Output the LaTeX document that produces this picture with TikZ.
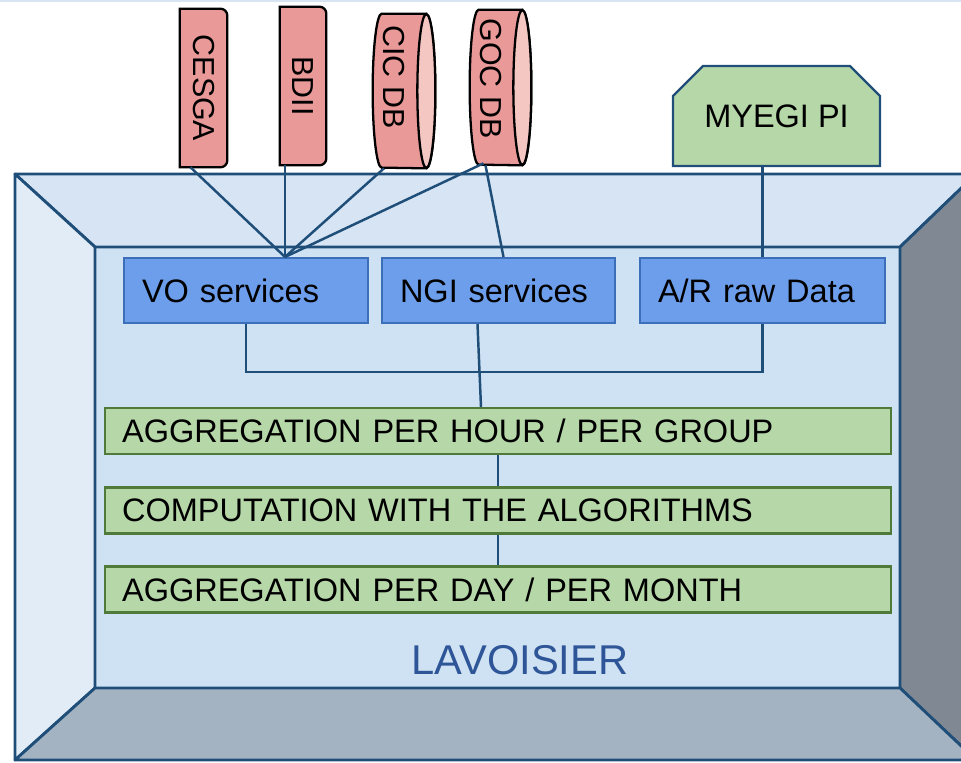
\documentclass[tikz,border=0pt]{standalone}
\usepackage{fontspec}
\setmainfont{Liberation Sans}
\usetikzlibrary{calc,shapes.misc}
\definecolor{LavEdge}{RGB}{31,78,121}
\definecolor{LavTop}{RGB}{214,228,244}
\definecolor{LavLeft}{RGB}{226,236,247}
\definecolor{LavInner}{RGB}{207,226,243}
\definecolor{LavRight}{RGB}{127,136,147}
\definecolor{LavBottom}{RGB}{164,179,194}
\definecolor{LavText}{RGB}{46,85,151}
\definecolor{SrcPink}{RGB}{234,153,153}
\definecolor{SrcEnd}{RGB}{244,199,195}
\definecolor{StepGreen}{RGB}{182,215,168}
\definecolor{StepEdge}{RGB}{79,122,58}
\definecolor{SvcBlue}{RGB}{109,158,235}
\definecolor{SvcEdge}{RGB}{61,111,185}
\tikzset{
  moldura/.style={draw=LavEdge, line width=1.6pt, line join=round},
  fonte/.style={minimum width=0.94cm, minimum height=3.16cm, inner sep=0pt},
  fontecaixa/.style={draw=black, line width=1.3pt, fill=SrcPink},
  fontetexto/.style={font=\fontsize{17.3pt}{20pt}\selectfont},
  portal/.style={chamfered rectangle, chamfered rectangle corners={north west, north east},
                 chamfered rectangle sep=0.3cm, draw=LavEdge, line width=1.3pt,
                 fill=StepGreen, minimum width=4.14cm, minimum height=2cm,
                 font=\fontsize{18.5pt}{22pt}\selectfont},
  servico/.style={draw=SvcEdge, line width=1.2pt, fill=SvcBlue, inner xsep=0.36cm,
                  minimum height=1.3cm, align=left, font=\fontsize{18.5pt}{22pt}\selectfont},
  etapa/.style={draw=StepEdge, line width=1.2pt, fill=StepGreen, inner xsep=0.34cm,
                text width=15.04cm, minimum height=0.92cm, align=left,
                font=\fontsize{18.5pt}{22pt}\selectfont},
  liga/.style={draw=LavEdge, line width=1.4pt},
}
% cilindro deitado sobre o no #1, meia altura #2
\newcommand{\cilindro}[2]{%
  \filldraw[fontecaixa] ($(#1.north east)+(-9,0)$) -- ($(#1.north west)+(9,0)$)
    arc[start angle=90, end angle=270, x radius=0.18cm, y radius=#2]
    -- ($(#1.south east)+(-9,0)$)
    arc[start angle=270, end angle=450, x radius=0.18cm, y radius=#2] -- cycle;
  \filldraw[fontecaixa, fill=SrcEnd] ($(#1.east)+(-9,0)$) ellipse[x radius=0.18cm, y radius=#2];
}

\begin{document}
\begin{tikzpicture}[x=0.02cm, y=-0.02cm]
  \useasboundingbox (0,0) rectangle (961,762);
  \clip (0,0) rectangle (961,762);
  \draw[LavTop, line width=1pt] (0,0.8) -- (961,0.8);

  % Moldura em relevo
  \fill[LavInner] (95,247) rectangle (900,688);
  \filldraw[moldura, fill=LavTop] (15,174) -- (976,174) -- (900,247) -- (95,247) -- cycle;
  \filldraw[moldura, fill=LavLeft] (15,174) -- (95,247) -- (95,688) -- (15,760) -- cycle;
  \filldraw[moldura, fill=LavRight] (976,174) -- (976,760) -- (900,688) -- (900,247) -- cycle;
  \filldraw[moldura, fill=LavBottom] (15,760) -- (95,688) -- (900,688) -- (976,760) -- cycle;
  \node[font=\fontsize{23.7pt}{28pt}\selectfont, text=LavText] (lav) at (520,660) {LAVOISIER};

  % Fontes externas
  \node[fonte] (cesga) at (203.5,88) {};
  \node[fonte, minimum width=0.92cm] (bdii) at (303,86) {};
  \node[fonte, minimum width=1.24cm, minimum height=3.08cm] (cic) at (404,91) {};
  \node[fonte, minimum width=1.22cm, minimum height=3.1cm] (goc) at (500.5,87.5) {};
  \filldraw[fontecaixa] (cesga.south west) -- (cesga.north west) [rounded corners=4pt]
    -- (cesga.north east) -- (cesga.south east) [sharp corners] -- cycle;
  \filldraw[fontecaixa] (bdii.south west) -- (bdii.north west) [rounded corners=4pt]
    -- (bdii.north east) -- (bdii.south east) [sharp corners] -- cycle;
  \cilindro{cic}{1.54cm}
  \cilindro{goc}{1.55cm}
  \node[fontetexto] (cesgatxt) at (cesga) {\rotatebox{-90}{CESGA}};
  \node[fontetexto] (bdiitxt) at (bdii) {\rotatebox{-90}{BDII}};
  \node[fontetexto] (cictxt) at ($(cic)+(-10,-14)$) {\rotatebox{-90}{CIC DB}};
  \node[fontetexto] (goctxt) at ($(goc)+(-10,-9)$) {\rotatebox{-90}{GOC DB}};
  \node[portal] (pi) at (776.5,116) {MYEGI PI};

  % Servicos
  \node[servico, text width=4.16cm] (vo) at (246,290.5) {VO services};
  \node[servico, text width=3.94cm] (ngi) at (498.5,290.5) {NGI services};
  \node[servico, text width=4.18cm] (ar) at (762.5,290.5) {A/R raw Data};

  % Etapas de calculo
  \node[etapa] (aghora) at (498,431) {AGGREGATION PER HOUR / PER GROUP};
  \node[etapa] (computo) at (498,510.5) {COMPUTATION WITH THE ALGORITHMS};
  \node[etapa] (agdia) at (498,589.5) {AGGREGATION PER DAY / PER MONTH};

  % Ligacoes
  \coordinate (vohub) at ($(vo.north)+(39,0)$);
  \draw[liga] ($(cesga.south)+(-13,0)$) -- (vohub);
  \draw[liga] (vohub |- bdii.south) -- (vohub);
  \draw[liga] ($(cic.south)+(-20,0)$) -- (vohub);
  \draw[liga] ($(goc.south)+(-17,-2)$) -- (vohub);
  \draw[liga] ($(goc.south)+(-15,0)$) -- ($(ngi.north)+(5,0)$);
  \draw[liga] (ar.north |- pi.south) -- (ar.north);
  \draw[liga] (vo.south) -- ++(0,48) -| (ar.south);
  \draw[liga] ($(ngi.south)+(-21,0)$) -- ($(aghora.north)+(-17,0)$);
  \draw[liga] (aghora) -- (computo);
  \draw[liga] (computo) -- (agdia);
\end{tikzpicture}
\end{document}
